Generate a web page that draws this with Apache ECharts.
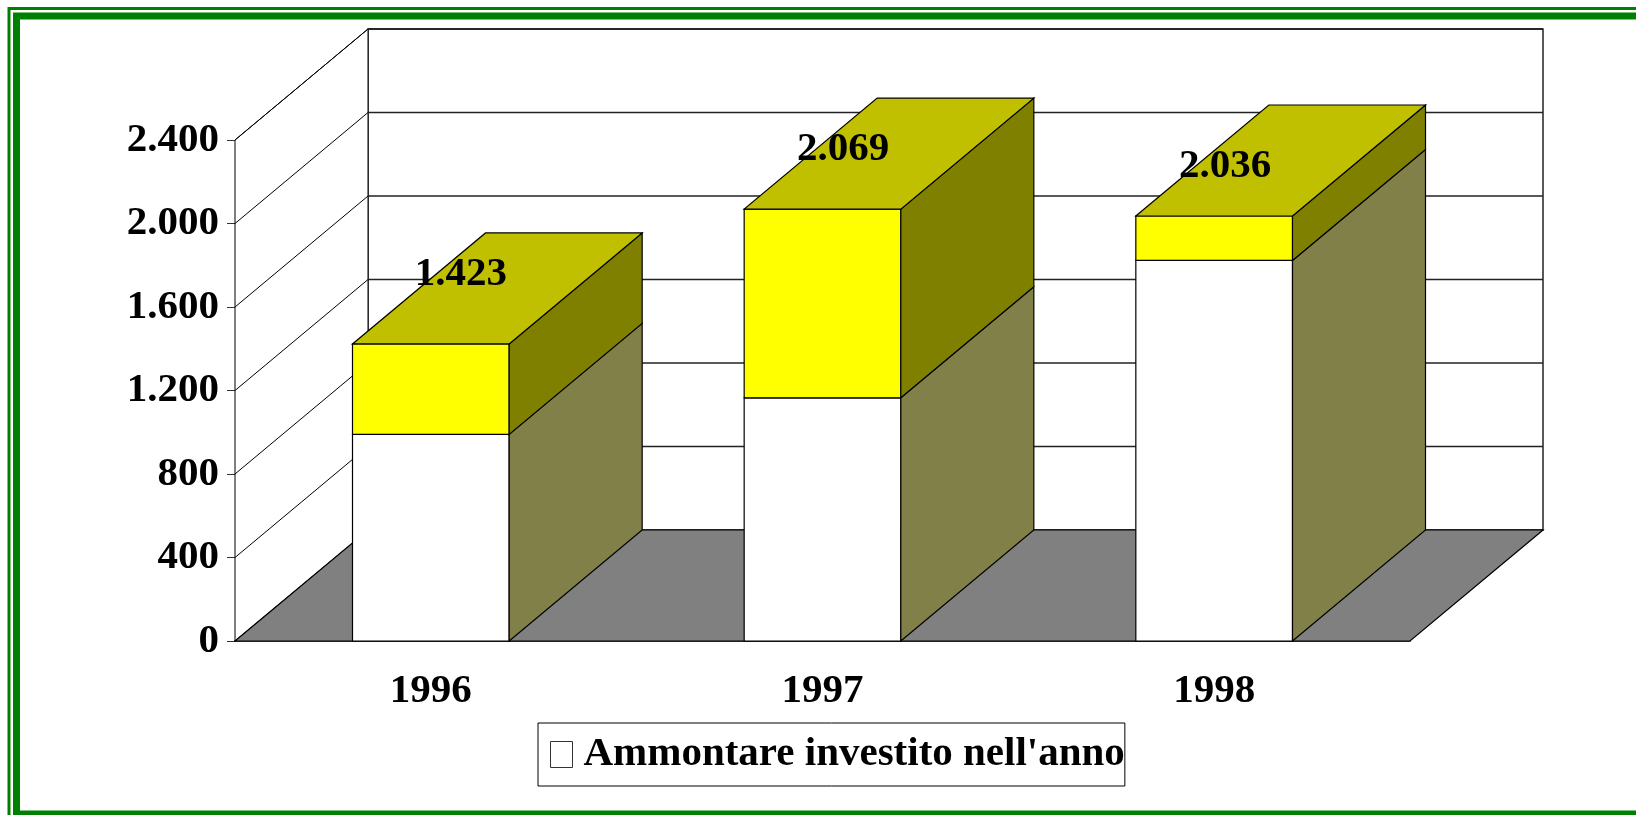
<!DOCTYPE html>
<html>
<head>
<meta charset="utf-8">
<script src="https://cdn.jsdelivr.net/npm/echarts@6/dist/echarts.min.js"></script>
<style>
  html, body { margin: 0; padding: 0; background: #fff; }
  #chart { width: 1636px; height: 815px; }
</style>
</head>
<body>
<div id="chart"></div>
<script>
// data
const years = ['1996', '1997', '1998'];
const investito = [990, 1165, 1823];   // white part
const totale = [1423, 2069, 2036];     // top of the yellow part
const yTicks = [0, 400, 800, 1200, 1600, 2000, 2400];

const SERIF = "'Liberation Serif', 'Times New Roman', serif";
const FONT = "bold 41px " + SERIF;
const DX = 133, DY = -111; // depth of the 3d box

function fmt(v) {
    return String(v).replace(/\B(?=(\d{3})+(?!\d))/g, '.');
}

function renderWalls(params, api) {
    let cs = params.coordSys;
    let L = cs.x, R = cs.x + cs.width;
    let y0 = api.coord([0, yTicks[0]])[1];
    let yTop = api.coord([0, yTicks[yTicks.length - 1]])[1];
    let line = {stroke: '#000', lineWidth: 1};
    let kids = [];
    kids.push({type: 'polygon', shape: {points: [[L + DX, y0 + DY], [R + DX, y0 + DY], [R + DX, yTop + DY], [L + DX, yTop + DY]]},
        style: {fill: '#fff', stroke: '#000', lineWidth: 1.3}});
    kids.push({type: 'polygon', shape: {points: [[L, y0], [L + DX, y0 + DY], [L + DX, yTop + DY], [L, yTop]]},
        style: {fill: '#fff', stroke: '#000', lineWidth: 1}});
    for (let v of yTicks) {
        if (v === 0) continue;
        let y = api.coord([0, v])[1];
        kids.push({type: 'line', shape: {x1: L, y1: y, x2: L + DX, y2: y + DY}, style: line});
        kids.push({type: 'line', shape: {x1: L + DX, y1: y + DY, x2: R + DX, y2: y + DY}, style: {stroke: '#222', lineWidth: 1.3}});
    }
    kids.push({type: 'polygon', shape: {points: [[L, y0], [R, y0], [R + DX, y0 + DY], [L + DX, y0 + DY]]},
        style: {fill: '#808080', stroke: '#000', lineWidth: 1.2}});
    return {type: 'group', children: kids};
}

function makeBarRender(front, side, top, withLabel) {
    return function (params, api) {
        let cat = api.value(0);
        let lo = api.value(1), hi = api.value(2);
        let cx = api.coord([cat, 0])[0];
        let hw = api.size([1, 0])[0] * 0.4 / 2;
        let yb = api.coord([cat, lo])[1], yt = api.coord([cat, hi])[1];
        let x1 = cx - hw, x2 = cx + hw;
        let st = {stroke: '#000', lineWidth: 1.2};
        let kids = [
            {type: 'polygon', shape: {points: [[x1, yb], [x2, yb], [x2, yt], [x1, yt]]}, style: Object.assign({fill: front}, st)},
            {type: 'polygon', shape: {points: [[x2, yb], [x2 + DX, yb + DY], [x2 + DX, yt + DY], [x2, yt]]}, style: Object.assign({fill: side}, st)}
        ];
        if (top) {
            kids.push({type: 'polygon', shape: {points: [[x1, yt], [x2, yt], [x2 + DX, yt + DY], [x1 + DX, yt + DY]]}, style: Object.assign({fill: top}, st)});
        }
        if (withLabel) {
            // excel drifts the label a bit with the perspective
            kids.push({type: 'text', x: cx + 30 - 9.5 * cat, y: yt - 70 + 10 * cat,
                style: {text: fmt(hi), font: FONT, fill: '#000', align: 'center', verticalAlign: 'middle'}});
        }
        return {type: 'group', children: kids};
    };
}

let chart = echarts.init(document.getElementById('chart'));
let option = {
    backgroundColor: '#fff',
    animation: false,
    graphic: [
        {type: 'rect', shape: {x: 9, y: 8.5, width: 1700, height: 900}, style: {fill: 'none', stroke: '#008000', lineWidth: 3}, z: 100},
        {type: 'rect', shape: {x: 16.5, y: 16, width: 1700, height: 798}, style: {fill: 'none', stroke: '#008000', lineWidth: 7}, z: 100}
    ],
    grid: {left: 235, right: 226, top: 140, bottom: 174},
    legend: {
        data: ["Ammontare investito nell'anno"],
        left: 538, top: 723,
        padding: [10, 0, 10, 12],
        borderColor: '#000', borderWidth: 1,
        itemWidth: 22, itemHeight: 26, itemGap: 6,
        icon: 'rect',
        itemStyle: {color: '#fff', borderColor: '#333', borderWidth: 1},
        textStyle: {fontFamily: SERIF, fontWeight: 'bold', fontSize: 41, color: '#000', lineHeight: 43, padding: [0, 0, 0, 6]}
    },
    xAxis: {
        type: 'category',
        data: years,
        axisLine: {lineStyle: {color: '#000', width: 1.5}},
        axisTick: {length: 10, lineStyle: {color: '#333', width: 1.5}},
        axisLabel: {margin: 30, fontFamily: SERIF, fontWeight: 'bold', fontSize: 41, color: '#000'},
        splitLine: {show: false}
    },
    yAxis: {
        type: 'value',
        min: 0, max: 2400, interval: 400,
        axisLine: {show: true, lineStyle: {color: '#000', width: 1}},
        axisTick: {show: true, length: 8, lineStyle: {color: '#333'}},
        axisLabel: {margin: 16, formatter: fmt, fontFamily: SERIF, fontWeight: 'bold', fontSize: 41, color: '#000'},
        splitLine: {show: false}
    },
    series: [
        {
            name: 'pareti', type: 'custom', clip: false, z: 1,
            renderItem: renderWalls,
            data: [[0, 0, 0]]
        },
        {
            name: "Ammontare investito nell'anno", type: 'custom', clip: false, z: 3,
            itemStyle: {color: '#fff'},
            renderItem: makeBarRender('#ffffff', '#808048', null, false),
            encode: {x: 0, y: 2},
            data: years.map((y, i) => [i, 0, investito[i]])
        },
        {
            name: 'totale', type: 'custom', clip: false, z: 4,
            itemStyle: {color: '#ffff00'},
            renderItem: makeBarRender('#ffff00', '#808000', '#c0c000', true),
            encode: {x: 0, y: 2},
            data: years.map((y, i) => [i, investito[i], totale[i]])
        }
    ]
};
chart.setOption(option);
</script>
</body>
</html>
